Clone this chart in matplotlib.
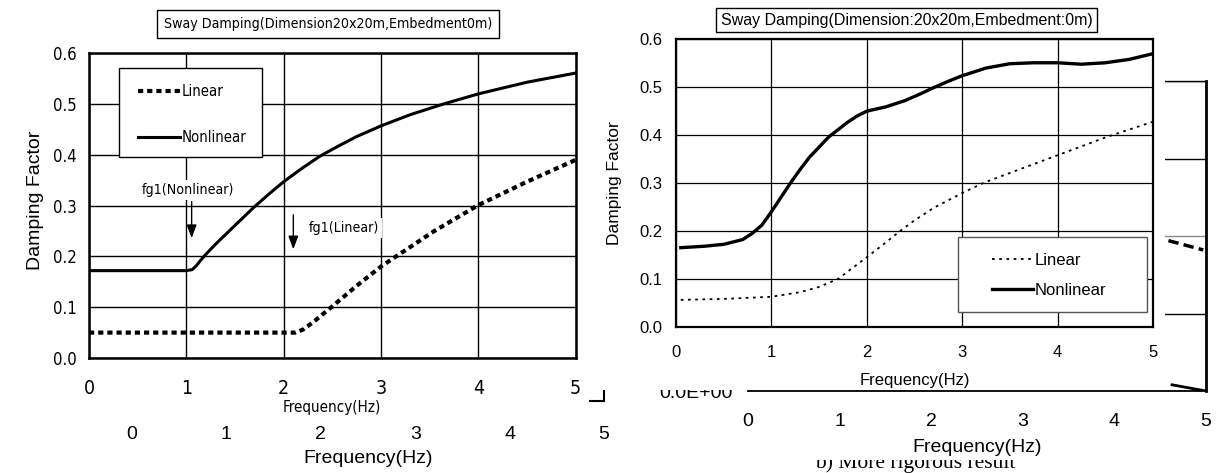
import os
import matplotlib
matplotlib.use("Agg")
import matplotlib.pyplot as plt
from matplotlib import font_manager
from matplotlib.font_manager import FontProperties
from matplotlib.patches import Rectangle
from matplotlib.lines import Line2D

# ---------------- data ----------------
x_ticks = [0, 1, 2, 3, 4, 5]
x_tick_labels = ["0", "1", "2", "3", "4", "5"]
y_ticks = [0.0, 0.1, 0.2, 0.3, 0.4, 0.5, 0.6]
y_tick_labels = ["0.0", "0.1", "0.2", "0.3", "0.4", "0.5", "0.6"]
series_names = ["Linear", "Nonlinear"]

title_left = "Sway Damping(Dimension20x20m,Embedment0m)"
title_right = "Sway Damping(Dimension:20x20m,Embedment:0m)"
x_label = "Frequency(Hz)"
y_label = "Damping Factor"
caption = "b) More rigorous result"

# left panel (simplified result)
left_nonlin_freq = [0, 0.5, 1.0, 1.06, 1.1, 1.15, 1.2, 1.3, 1.5, 1.69, 1.85, 2.0, 2.2,
                    2.37, 2.55, 2.75, 3.0, 3.3, 3.64, 4.0, 4.5, 5.0]
left_nonlin_damp = [0.172, 0.172, 0.172, 0.174, 0.181, 0.193, 0.204, 0.224, 0.261,
                    0.296, 0.323, 0.347, 0.375, 0.397, 0.416, 0.436, 0.457, 0.479,
                    0.5, 0.52, 0.543, 0.561]
left_lin_freq = [0, 0.5, 1.0, 1.5, 2.0, 2.12, 2.2, 2.3, 2.49, 2.75, 3.0, 3.25, 3.54,
                 4.0, 4.5, 5.0]
left_lin_damp = [0.05, 0.05, 0.05, 0.05, 0.05, 0.05, 0.056, 0.07, 0.1, 0.142, 0.18,
                 0.212, 0.249, 0.301, 0.347, 0.39]
annot_labels = ["fg1(Nonlinear)", "fg1(Linear)"]
annot_freq = [1.055, 2.10]

# right panel (more rigorous result)
right_nonlin_freq = [0.05, 0.3, 0.5, 0.7, 0.8, 0.9, 1.0, 1.1, 1.2, 1.3, 1.4, 1.6, 1.8,
                     1.9, 2.0, 2.2, 2.4, 2.55, 2.7, 2.85, 3.0, 3.25, 3.5, 3.75, 4.0,
                     4.25, 4.5, 4.75, 5.0]
right_nonlin_damp = [0.165, 0.168, 0.172, 0.182, 0.195, 0.212, 0.24, 0.27, 0.30, 0.328,
                     0.354, 0.396, 0.427, 0.44, 0.45, 0.459, 0.472, 0.485, 0.499,
                     0.512, 0.524, 0.54, 0.549, 0.551, 0.551, 0.548, 0.551, 0.558,
                     0.57]
right_lin_freq = [0.05, 0.5, 1.0, 1.3, 1.5, 1.7, 2.0, 2.2, 2.35, 2.5, 2.7, 3.0, 3.22,
                  3.5, 4.0, 4.5, 5.0]
right_lin_damp = [0.056, 0.058, 0.0625, 0.072, 0.083, 0.1, 0.145, 0.176, 0.2, 0.222,
                  0.248, 0.279, 0.3, 0.321, 0.358, 0.395, 0.428]

# background (partly hidden) charts
bg_right_yticks = [0, 1, 2, 3, 4]
bg_right_yticklabels = ["0.0E+00", "5.0E-02", "1.0E-01", "1.5E-01", "2.0E-01"]
bg_stub_freq = [4.59, 4.97]
bg_stub_val = [1.94, 1.82]
bg_diag_freq = [4.63, 5.0]
bg_diag_val = [0.08, 0.0]

# ---------------- fonts ----------------
REG = "Liberation Sans"
SERIF = "Liberation Serif"
plt.rcParams["font.family"] = [REG, "DejaVu Sans"]

narrow_file = None
best = 99
for f in font_manager.fontManager.ttflist:
    nm = f.name.lower()
    fn = os.path.basename(f.fname).lower()
    if f.style != "normal" or f.weight not in (400, "normal", "regular", "book"):
        continue
    if "bold" in fn or "italic" in fn or "oblique" in fn:
        continue
    rank = None
    if "liberation sans narrow" in nm:
        rank = 0
    elif "arial narrow" in nm:
        rank = 1
    elif "sans" in nm and ("condensed" in fn or "narrow" in fn):
        rank = 2
    if rank is not None and rank < best:
        best = rank
        narrow_file = f.fname

# width factor relative to a true Arial-Narrow-like face
K = 1.2 if best in (0, 1) else (1.0 if narrow_file else 0.92)


def NF(size):
    if narrow_file:
        return FontProperties(fname=narrow_file, size=size * K)
    return FontProperties(family=REG, size=size * K)


W, H = 1216, 473
fig = plt.figure(figsize=(W / 100, H / 100), dpi=100)


def box(x0, y0, x1, y1):
    return [x0 / W, 1 - y1 / H, (x1 - x0) / W, (y1 - y0) / H]


def frect(x0, y0, x1, y1, z):
    b = box(x0, y0, x1, y1)
    fig.add_artist(Rectangle((b[0], b[1]), b[2], b[3], transform=fig.transFigure,
                             fc="white", ec="none", zorder=z))


# ---------------- background charts ----------------
fig.text(915 / W, 1 - 468 / H, caption, family=SERIF, fontsize=15.5, ha="center",
         va="baseline", zorder=-3)
frect(700, 380, 1120, 460, -2)

bl = fig.add_axes(box(132, 60, 604, 401), zorder=0)
bl.set_facecolor("none")
bl.set_xlim(0, 5)
bl.set_ylim(0, 1)
for s in ["left", "top"]:
    bl.spines[s].set_visible(False)
bl.spines["right"].set_linewidth(1.5)
bl.spines["bottom"].set_linewidth(1.5)
bl.set_xticks(x_ticks)
bl.set_xticklabels(x_tick_labels, fontsize=14, family=REG)
bl.set_yticks([])
bl.tick_params(axis="x", length=0, pad=18)
bl.set_xlabel(x_label, fontsize=14, family=REG)
bl.xaxis.set_label_coords(0.5, (401 - 458) / 341)
bl.xaxis.label.set_va("center")

br = fig.add_axes(box(748, 81, 1206, 391), zorder=0)
br.set_facecolor("none")
br.set_xlim(0, 5)
br.set_ylim(0, 4)
br.spines["left"].set_visible(False)
br.spines["right"].set_linewidth(2)
br.spines["bottom"].set_linewidth(1.3)
br.spines["top"].set_linewidth(1.0)
br.set_xticks(x_ticks)
br.set_xticklabels(x_tick_labels, fontsize=14, family=REG)
br.set_yticks(bg_right_yticks)
br.set_yticklabels(bg_right_yticklabels, fontsize=14, family=REG)
br.tick_params(length=0)
br.tick_params(axis="x", pad=16)
br.tick_params(axis="y", pad=11)
br.grid(True, axis="y", color="black", lw=1)
br.yaxis.get_gridlines()[2].set_color("#8a8a8a")
br.plot(bg_stub_freq, bg_stub_val, color="black", lw=2.5, linestyle=(0, (3, 1.5)))
br.plot(bg_diag_freq, bg_diag_val, color="black", lw=2)
br.set_xlabel(x_label, fontsize=14, family=REG)
br.xaxis.set_label_coords(0.5, (391 - 447) / 310)
br.xaxis.label.set_va("center")

# white overlays of the two pasted panels
frect(0, 0, 589, 415, 1)
frect(595, 0, 1165, 389.5, 1)

# ---------------- left panel ----------------
ax1 = fig.add_axes(box(89, 53.3, 575.5, 358), zorder=2)
ax1.set_xlim(0, 5)
ax1.set_ylim(0, 0.6)
ax1.grid(True, color="black", lw=1)
ax1.set_axisbelow(True)
ax1.plot(left_nonlin_freq, left_nonlin_damp, color="black", lw=2.2, zorder=3)
ax1.plot(left_lin_freq, left_lin_damp, color="black", lw=3,
         linestyle=(0, (1.25, 0.95)), dash_capstyle="butt", zorder=3)
for s in ax1.spines.values():
    s.set_linewidth(1.8)
ax1.set_xticks(x_ticks)
ax1.set_xticklabels(x_tick_labels, fontproperties=NF(14))
ax1.set_yticks(y_ticks)
ax1.set_yticklabels(y_tick_labels, fontproperties=NF(12))
ax1.tick_params(length=0)
ax1.tick_params(axis="y", pad=9)
ax1.tick_params(axis="x", pad=15)
ax1.set_xlabel(x_label, fontproperties=NF(10.9))
ax1.xaxis.set_label_coords(0.5, (358 - 407) / 304.7)
ax1.xaxis.label.set_va("center")
ax1.text((328 - 89) / 486.5, (358 - 24) / 304.7, title_left, transform=ax1.transAxes,
         ha="center", va="center", fontproperties=NF(10.2),
         bbox=dict(boxstyle="square,pad=0.5", fc="white", ec="black", lw=1))

# annotations
tb = dict(boxstyle="square,pad=0.2", fc="white", ec="none")
ax1.annotate("", xy=(annot_freq[0], 0.236), xytext=(annot_freq[0], 0.308),
             arrowprops=dict(arrowstyle="-|>,head_length=0.8,head_width=0.3",
                             color="black", lw=1, shrinkA=0, shrinkB=0), zorder=5)
ax1.text(1.02, 0.331, annot_labels[0], ha="center", va="center",
         fontproperties=NF(10.2), bbox=tb, zorder=5)
ax1.annotate("", xy=(annot_freq[1], 0.214), xytext=(annot_freq[1], 0.282),
             arrowprops=dict(arrowstyle="-|>,head_length=0.8,head_width=0.3",
                             color="black", lw=1, shrinkA=0, shrinkB=0), zorder=5)
ax1.text(2.62, 0.256, annot_labels[1], ha="center", va="center",
         fontproperties=NF(10.2), bbox=tb, zorder=5)

# legend (manual frame)
ax1.add_patch(Rectangle(((119 - 89) / 486.5, (358 - 157) / 304.7), 143 / 486.5,
                        89 / 304.7, transform=ax1.transAxes, fc="white", ec="black",
                        lw=1, zorder=6))
h1 = [Line2D([], [], color="black", lw=3, linestyle=(0, (1.25, 0.95)),
             dash_capstyle="butt"),
      Line2D([], [], color="black", lw=2.2)]
leg_fs = 10.7 * K
leg_px = leg_fs * 100 / 72
leg1 = ax1.legend(h1, series_names, loc="upper left",
                  bbox_to_anchor=((138 - 89) / 486.5, (358 - 84.5) / 304.7),
                  frameon=False, borderpad=0, borderaxespad=0,
                  handlelength=42 / leg_px, handletextpad=0.08,
                  labelspacing=(45 - 0.98 * leg_px) / leg_px, prop=NF(10.7))
leg1.set_zorder(7)

# ---------------- right panel ----------------
ax2 = fig.add_axes(box(676, 39.3, 1153, 326.7), zorder=2)
ax2.set_xlim(0, 5)
ax2.set_ylim(0, 0.6)
ax2.grid(True, color="black", lw=0.9)
ax2.set_axisbelow(True)
ax2.plot(right_nonlin_freq, right_nonlin_damp, color="black", lw=2.4, zorder=3)
ax2.plot(right_lin_freq, right_lin_damp, color="black", lw=1.3,
         linestyle=(0, (1.5, 2.5)), zorder=3)
for s in ax2.spines.values():
    s.set_linewidth(1.6)
ax2.set_xticks(x_ticks)
ax2.set_xticklabels(x_tick_labels, fontsize=12, family=REG)
ax2.set_yticks(y_ticks)
ax2.set_yticklabels(y_tick_labels, fontsize=12, family=REG)
ax2.tick_params(length=0)
ax2.tick_params(axis="y", pad=10)
ax2.tick_params(axis="x", pad=13)
ax2.set_xlabel(x_label, fontsize=12, family=REG)
ax2.xaxis.set_label_coords(0.5, (326.7 - 380) / 287.4)
ax2.xaxis.label.set_va("center")
ax2.set_ylabel(y_label, fontsize=12.5, family=REG)
ax2.yaxis.set_label_coords((615 - 676) / 477, 0.5)
ax2.yaxis.label.set_va("center")
ax2.text((906.5 - 676) / 477, (326.7 - 20) / 287.4, title_right, transform=ax2.transAxes,
         ha="center", va="center", fontsize=11.5, family=REG,
         bbox=dict(boxstyle="square,pad=0.3", fc="white", ec="black", lw=1))

ax2.add_patch(Rectangle(((958 - 676) / 477, (326.7 - 312) / 287.4), 189 / 477,
                        75 / 287.4, transform=ax2.transAxes, fc="white", ec="#555555",
                        lw=1, zorder=6))
h2 = [Line2D([], [], color="black", lw=1.3, linestyle=(0, (1.5, 2.5))),
      Line2D([], [], color="black", lw=2.4)]
leg2 = ax2.legend(h2, series_names, loc="upper left",
                  bbox_to_anchor=((992 - 676) / 477, (326.7 - 253) / 287.4),
                  frameon=False, borderpad=0, borderaxespad=0, handlelength=2.45,
                  handletextpad=0.08, labelspacing=0.9,
                  prop=dict(family=REG, size=12))
leg2.set_zorder(7)

# y label that sits over the left panel
fig.text(35 / W, 1 - 200 / H, y_label, rotation=90, fontsize=14, family=REG,
         ha="center", va="center", zorder=3)

fig.savefig("out.png", dpi=100)
